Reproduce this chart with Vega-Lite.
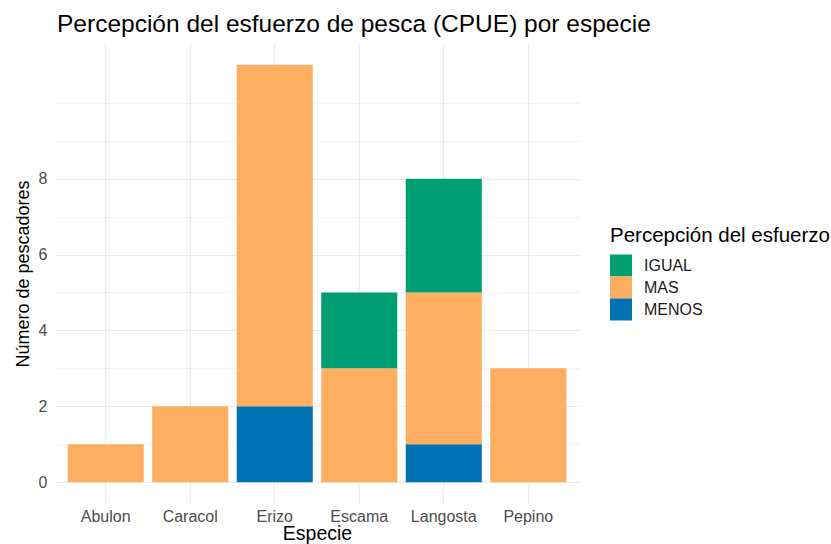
{
  "$schema": "https://vega.github.io/schema/vega-lite/v6.json",
  "width": 524,
  "height": 459,
  "autosize": "none",
  "padding": {"left": 55, "top": 44, "right": 252, "bottom": 41},
  "background": "white",
  "title": {
    "text": "Percepción del esfuerzo de pesca (CPUE) por especie",
    "anchor": "start",
    "frame": "group",
    "font": "Liberation Sans",
    "fontSize": 24.5,
    "fontWeight": "normal",
    "color": "#000000",
    "baseline": "alphabetic",
    "offset": -12,
    "dx": 2
  },
  "data": {
    "values": [
      {"especie": "Abulon", "percepcion": "MAS", "n": 1},
      {"especie": "Caracol", "percepcion": "MAS", "n": 2},
      {"especie": "Erizo", "percepcion": "MENOS", "n": 2},
      {"especie": "Erizo", "percepcion": "MAS", "n": 9},
      {"especie": "Escama", "percepcion": "MAS", "n": 3},
      {"especie": "Escama", "percepcion": "IGUAL", "n": 2},
      {"especie": "Langosta", "percepcion": "MENOS", "n": 1},
      {"especie": "Langosta", "percepcion": "MAS", "n": 4},
      {"especie": "Langosta", "percepcion": "IGUAL", "n": 3},
      {"especie": "Pepino", "percepcion": "MAS", "n": 3}
    ]
  },
  "mark": {"type": "bar"},
  "encoding": {
    "x": {
      "field": "especie",
      "type": "nominal",
      "sort": ["Abulon", "Caracol", "Erizo", "Escama", "Langosta", "Pepino"],
      "scale": {"paddingInner": 0.1, "paddingOuter": 0.15},
      "axis": {
        "title": "Especie",
        "labelAngle": 0,
        "bandPosition": 0.5,
        "grid": true,
        "gridColor": "#ebebeb",
        "gridWidth": 1.2,
        "ticks": false,
        "domain": false,
        "labelFont": "Liberation Sans",
        "labelFontSize": 16,
        "labelColor": "#4d4d4d",
        "labelPadding": 5,
        "titleFont": "Liberation Sans",
        "titleFontSize": 19.5,
        "titleFontWeight": "normal",
        "titleColor": "#000000",
        "titlePadding": 0
      }
    },
    "y": {
      "field": "n",
      "type": "quantitative",
      "stack": "zero",
      "scale": {"domain": [-0.55, 11.55], "nice": false, "zero": false},
      "axis": {
        "title": "Número de pescadores",
        "values": [0, 1, 2, 3, 4, 5, 6, 7, 8, 9, 10],
        "labelExpr": "(datum.value % 2 == 0 && datum.value <= 8) ? datum.label : ''",
        "grid": true,
        "gridColor": "#ebebeb",
        "gridWidth": {"condition": {"test": "datum.value % 2 == 0 && datum.value <= 8", "value": 1.2}, "value": 0.6},
        "ticks": false,
        "domain": false,
        "labelFont": "Liberation Sans",
        "labelFontSize": 16,
        "labelColor": "#4d4d4d",
        "labelPadding": 8,
        "titleFont": "Liberation Sans",
        "titleFontSize": 18,
        "titleFontWeight": "normal",
        "titleColor": "#000000",
        "titlePadding": 6
      }
    },
    "color": {
      "field": "percepcion",
      "type": "nominal",
      "scale": {"domain": ["IGUAL", "MAS", "MENOS"], "range": ["#009E73", "#FDAE61", "#0072B2"]},
      "legend": {
        "title": "Percepción del esfuerzo",
        "orient": "none",
        "legendX": 555,
        "legendY": 182,
        "symbolType": "square",
        "symbolSize": 484,
        "symbolStrokeWidth": 0,
        "symbolOpacity": 1,
        "rowPadding": 0,
        "labelOffset": 12,
        "labelFont": "Liberation Sans",
        "labelFontSize": 16,
        "labelColor": "#1a1a1a",
        "titleFont": "Liberation Sans",
        "titleFontSize": 20.5,
        "titleFontWeight": "normal",
        "titleColor": "#000000",
        "titlePadding": 8,
        "titleLimit": 400,
        "padding": 0
      }
    },
    "order": {"field": "percepcion", "sort": "descending"}
  },
  "config": {
    "view": {"stroke": null}
  }
}
